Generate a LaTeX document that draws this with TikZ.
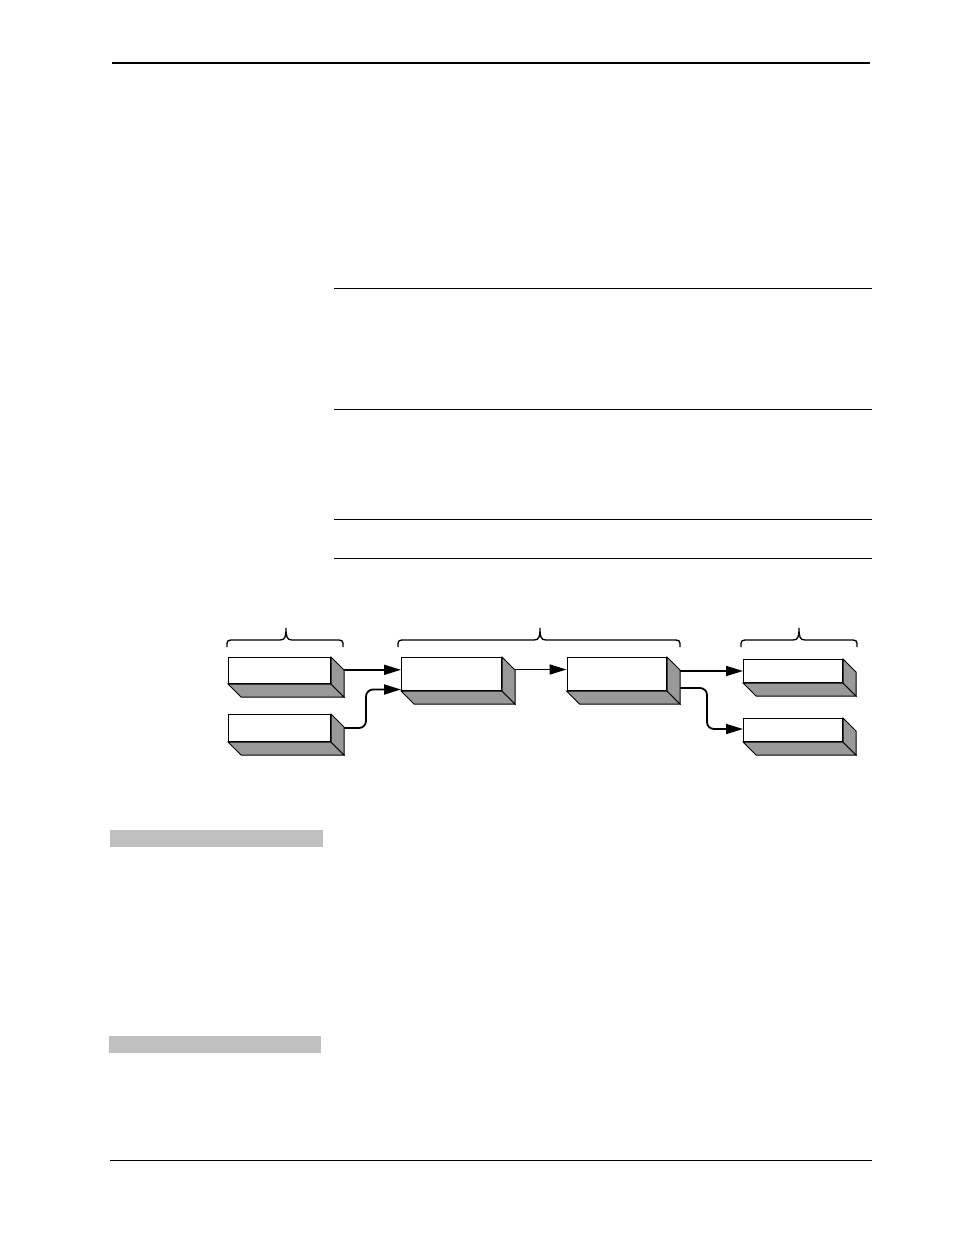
\documentclass[tikz,border=0pt]{standalone}
\usetikzlibrary{arrows.meta,calc}
\definecolor{sidegray}{HTML}{999999}
\definecolor{bargray}{HTML}{C0C0C0}
\tikzset{
  boxfront/.style={draw, fill=white, line width=1pt, inner sep=0pt, anchor=north west, shape=rectangle},
  boxside/.style={draw, fill=sidegray, line width=1pt, line join=miter},
  arr/.style={line width=1.8pt, -{Triangle[length=17pt,width=10pt]}},
  bracestyle/.style={line width=1.3pt},
  rulethin/.style={line width=1pt},
  rulethick/.style={line width=2pt},
  graybar/.style={fill=bargray}
}
\newcommand\mybox[5]{%
  \node[boxfront, minimum width=#4pt, minimum height=#5pt] (#1) at (#2,#3) {};
  \path[boxside] (#1.south west) -- (#1.south east) -- ++(13,13) -- ([shift={(13,13)}]#1.south west) -- cycle;
  \path[boxside] (#1.north east) -- ++(13,13) -- ([shift={(13,13)}]#1.south east) -- (#1.south east) -- cycle;
  \coordinate (#1r) at ([xshift=13pt]#1.north east);
}
\newcommand\mybrace[3]{% x-left, x-middle, x-right
  \draw[bracestyle] (#1,647) .. controls (#1,640) .. (#1+8,640) -- (#2-6,640)
     .. controls (#2-1,640) and (#2,637) .. (#2,628)
     .. controls (#2,637) and (#2+1,640) .. (#2+6,640) -- (#3-8,640)
     .. controls (#3,640) .. (#3,647);
}
\begin{document}
\begin{tikzpicture}[x=1pt,y=-1pt]
\useasboundingbox (0,0) rectangle (954,1235);
% page rules
\draw[rulethick] (112,63) -- (870,63);
\draw[rulethin] (334,288) -- (872,288);
\draw[rulethin] (334,409) -- (872,409);
\draw[rulethin] (334,519) -- (872,519);
\draw[rulethin] (334,558) -- (872,558);
\draw[rulethin] (110,1160) -- (872,1160);
% gray bars
\fill[graybar] (110,830) rectangle (323,847);
\fill[graybar] (109,1036) rectangle (321,1053);
% braces
\mybrace{227}{286}{343}
\mybrace{398}{540}{680}
\mybrace{741}{799}{857}
% boxes
\mybox{a1}{228}{657}{102}{26}
\mybox{a2}{228}{714}{102}{27}
\mybox{b1}{401}{657}{100}{33}
\mybox{b2}{566.5}{657}{99.5}{33}
\mybox{c1}{743}{659}{99}{23}
\mybox{c2}{743}{718}{99}{23}
% connectors
\coordinate (pa1) at ([xshift=13pt,yshift=0.7pt]a1.east);
\draw[arr] (pa1) -- (pa1 -| b1.west);
\coordinate (pa2) at ([xshift=13pt]a2.east);
\draw[arr, rounded corners=7pt] (pa2) -- ++(22,0) |- ([yshift=1.5pt]b1.south west);
\coordinate (pb1) at ([xshift=13pt,yshift=4.5pt]b1.east);
\draw[arr] (pb1) -- (pb1 -| b2.west);
\coordinate (pb2) at ([xshift=13pt]b2.east |- c1.west);
\draw[arr] (pb2) -- (c1.west);
\coordinate (pb2b) at ([xshift=13pt,yshift=3pt]b2.south east);
\draw[arr, rounded corners=7pt] (pb2b) -- ++(27,0) |- ([yshift=1pt]c2.west);
\end{tikzpicture}
\end{document}
